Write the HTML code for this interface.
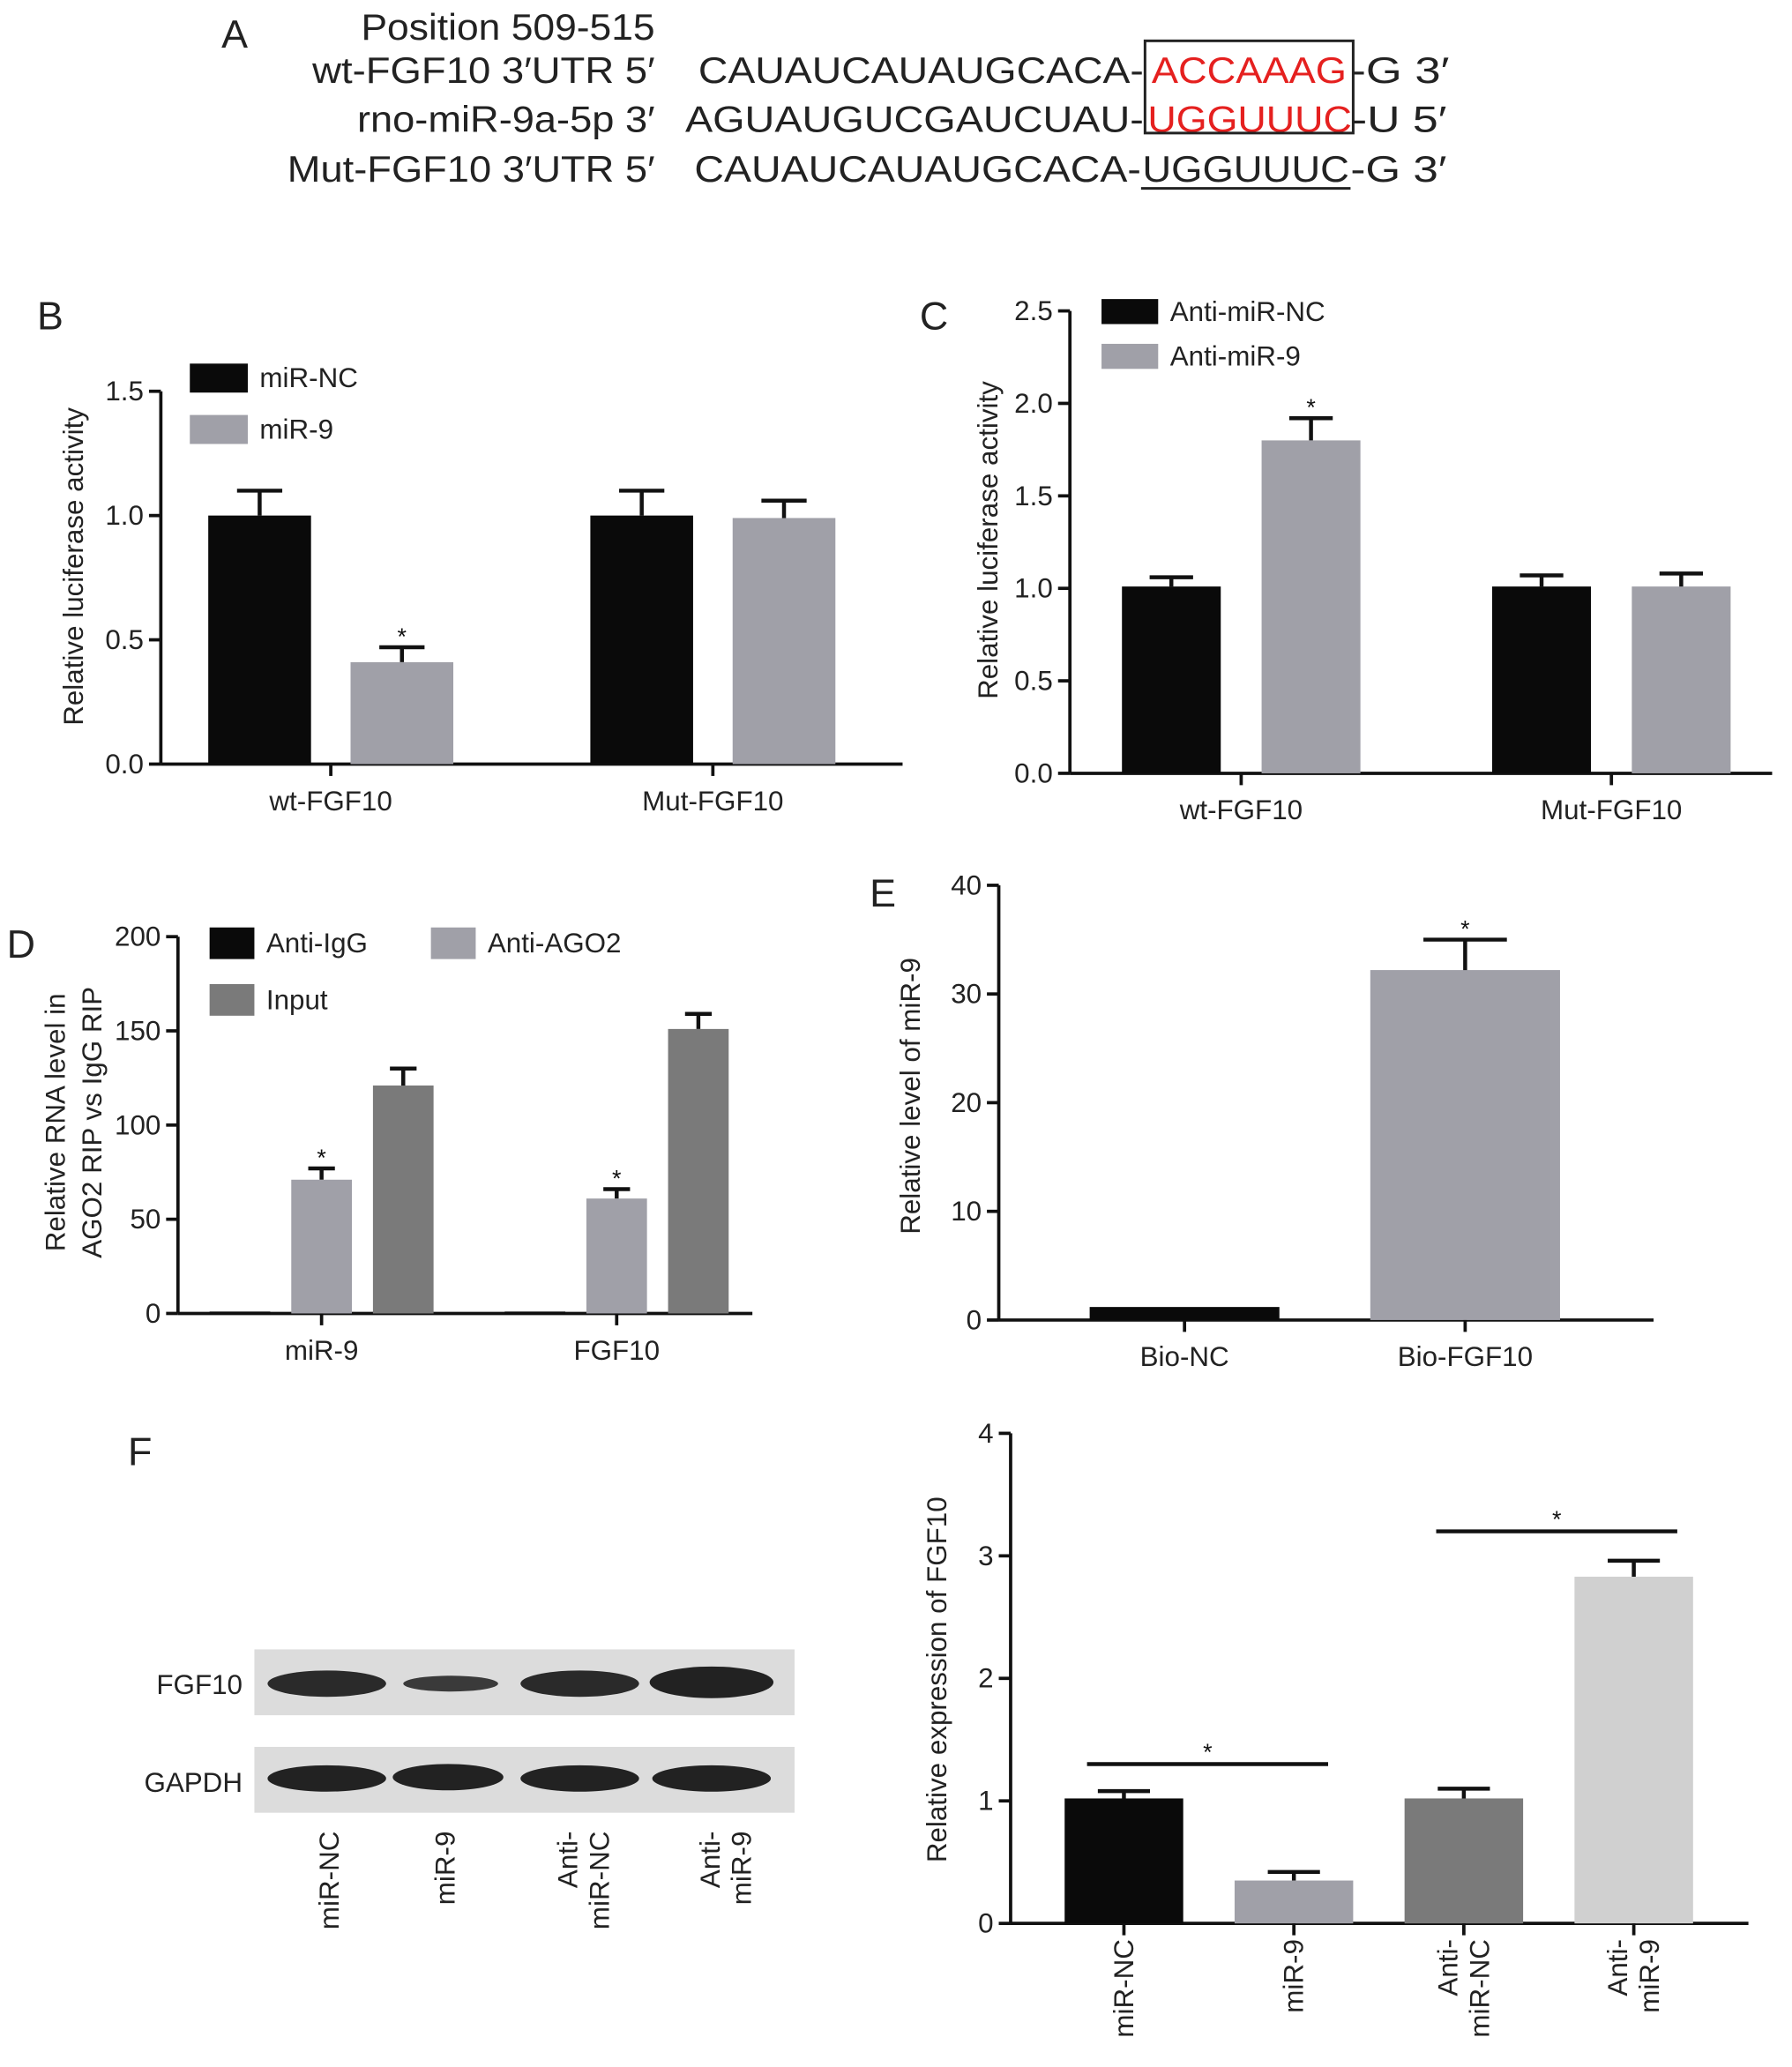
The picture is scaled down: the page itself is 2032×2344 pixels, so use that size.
<!DOCTYPE html>
<html><head><meta charset="utf-8"><style>
html,body{margin:0;padding:0;background:#fff}
svg{display:block;font-family:"Liberation Sans",Arial,sans-serif}
</style></head><body>
<svg id="fig" width="2032" height="2344" viewBox="0 0 1360 1569" xmlns="http://www.w3.org/2000/svg">
<g font-size="28" fill="#222">
<text x="168" y="36" font-size="30">A</text>
<text x="274" y="30" textLength="223" lengthAdjust="spacingAndGlyphs">Position 509-515</text>
<text x="237" y="63" textLength="260" lengthAdjust="spacingAndGlyphs">wt-FGF10 3′UTR 5′</text>
<text x="271" y="100" textLength="226" lengthAdjust="spacingAndGlyphs">rno-miR-9a-5p 3′</text>
<text x="218" y="138" textLength="279" lengthAdjust="spacingAndGlyphs">Mut-FGF10 3′UTR 5′</text>
<g>
<text x="530" y="63" textLength="338" lengthAdjust="spacingAndGlyphs">CAUAUCAUAUGCACA-</text>
<text x="874" y="63" textLength="148" lengthAdjust="spacingAndGlyphs" fill="#e5201f">ACCAAAG</text>
<text x="1025" y="63" textLength="75" lengthAdjust="spacingAndGlyphs">-G 3′</text>
</g>
<g>
<text x="520" y="100" textLength="348" lengthAdjust="spacingAndGlyphs">AGUAUGUCGAUCUAU-</text>
<text x="871" y="100" textLength="155" lengthAdjust="spacingAndGlyphs" fill="#e5201f">UGGUUUC</text>
<text x="1026" y="100" textLength="72" lengthAdjust="spacingAndGlyphs">-U 5′</text>
</g>
<g>
<text x="527" y="138" textLength="339" lengthAdjust="spacingAndGlyphs">CAUAUCAUAUGCACA-</text>
<text x="867" y="138" textLength="157" lengthAdjust="spacingAndGlyphs">UGGUUUC</text>
<text x="1025" y="138" textLength="73" lengthAdjust="spacingAndGlyphs">-G 3′</text>
</g>
<rect x="869" y="31" width="158" height="70" fill="none" stroke="#222" stroke-width="2"/>
<line x1="866" y1="143" x2="1025" y2="143" stroke="#222" stroke-width="2"/>
</g>
<g id="charts"></g>
<g>
<text x="97" y="1112" font-size="30" fill="#222">F</text>
<rect x="193" y="1252" width="410" height="50" fill="#dcdcdc"/>
<rect x="193" y="1326" width="410" height="50" fill="#dcdcdc"/>
<text x="184" y="1286" text-anchor="end" font-size="21" fill="#222">FGF10</text>
<text x="184" y="1360" text-anchor="end" font-size="21" fill="#222">GAPDH</text>
<ellipse cx="248" cy="1278" rx="45" ry="10" fill="#2a2a2a"/>
<ellipse cx="342" cy="1278" rx="36" ry="6" fill="#3a3a3a"/>
<ellipse cx="440" cy="1278" rx="45" ry="10" fill="#2a2a2a"/>
<ellipse cx="540" cy="1277" rx="47" ry="12" fill="#222"/>
<ellipse cx="248" cy="1350" rx="45" ry="10" fill="#222"/>
<ellipse cx="340" cy="1349" rx="42" ry="10" fill="#222"/>
<ellipse cx="440" cy="1350" rx="45" ry="10" fill="#222"/>
<ellipse cx="540" cy="1350" rx="45" ry="10" fill="#222"/>
<g font-size="21" fill="#222">
<text transform="translate(250,1390) rotate(-90)" text-anchor="end" dy="7">miR-NC</text>
<text transform="translate(338,1390) rotate(-90)" text-anchor="end" dy="7">miR-9</text>
<text transform="translate(442,1390) rotate(-90)" text-anchor="end" dy="-4"><tspan x="0" dy="-4">Anti-</tspan><tspan x="0" dy="24">miR-NC</tspan></text>
<text transform="translate(550,1390) rotate(-90)" text-anchor="end"><tspan x="0" dy="-4">Anti-</tspan><tspan x="0" dy="24">miR-9</tspan></text>
</g>
</g>
</svg>
<script>
// Panel B
const bCats=["wt-FGF10","Mut-FGF10"];
const bSeries=["miR-NC","miR-9"];
const bVals=[[1.0,0.41],[1.0,0.99]];
const bErr=[[0.1,0.06],[0.1,0.07]];
const bSig=[[false,true],[false,false]];
const bTicks=["0.0","0.5","1.0","1.5"];
// Panel C
const cCats=["wt-FGF10","Mut-FGF10"];
const cSeries=["Anti-miR-NC","Anti-miR-9"];
const cVals=[[1.01,1.8],[1.01,1.01]];
const cErr=[[0.05,0.12],[0.06,0.07]];
const cSig=[[false,true],[false,false]];
const cTicks=["0.0","0.5","1.0","1.5","2.0","2.5"];
// Panel D
const dCats=["miR-9","FGF10"];
const dSeries=["Anti-IgG","Anti-AGO2","Input"];
const dVals=[[1,71,121],[1,61,151]];
const dErr=[[0,6,9],[0,5,8]];
const dSig=[[false,true,false],[false,true,false]];
const dTicks=["0","50","100","150","200"];
// Panel E
const eCats=["Bio-NC","Bio-FGF10"];
const eVals=[1.2,32.2];
const eErr=[0,2.8];
const eSig=[false,true];
const eTicks=["0","10","20","30","40"];
// Panel F
const fCats=["miR-NC","miR-9","Anti-miR-NC","Anti-miR-9"];
const fVals=[1.02,0.35,1.02,2.83];
const fErr=[0.06,0.07,0.08,0.13];
const fTicks=["0","1","2","3","4"];

const NS="http://www.w3.org/2000/svg";
const root=document.getElementById('charts');
function mk(tag,attrs,parent,txt){const e=document.createElementNS(NS,tag);for(const k in attrs)e.setAttribute(k,attrs[k]);if(txt!==undefined)e.textContent=txt;(parent||root).appendChild(e);return e;}

function axes(g,o){
  const ys=v=>o.y0-(v/o.max)*(o.y0-o.yTop);
  const ya=mk('line',{x1:o.x0,y1:o.yTop,x2:o.x0,y2:o.y0,stroke:'#111','stroke-width':2.5},g);
  
  const xa=mk('line',{x1:o.x0,y1:o.y0,x2:o.xEnd,y2:o.y0,stroke:'#111','stroke-width':2.5},g);
  
  o.ticks.forEach((t,i)=>{const v=o.max*i/(o.ticks.length-1);const y=ys(v);
    const tl=mk('line',{x1:o.x0-9,y1:y,x2:o.x0,y2:y,stroke:'#111','stroke-width':2.5},g);
    
    const tx=mk('text',{x:o.x0-13,y:y+7,'text-anchor':'end','font-size':21,fill:'#222'},g,t);
    });
  return ys;
}
function bar(g,x,w,ys,y0,v,err,color,sig,name){
  const r=mk('rect',{x:x,y:ys(v),width:w,height:y0-ys(v),fill:color},g);
  
  let top=ys(v);
  if(err>0){const cx=x+w/2,ye=ys(v+err);top=ye;
    const el=mk('path',{d:`M${cx} ${ys(v)}V${ye}M${cx-w*0.22} ${ye}H${cx+w*0.22}`,stroke:'#111','stroke-width':3,fill:'none'},g);
    }
  if(sig){const s=mk('text',{x:x+w/2,y:top-2,'text-anchor':'middle','font-size':18,fill:'#111'},g,'*');
    }
}
function ytitle(g,x,cy,lines,name){
  const t=mk('text',{transform:`translate(${x},${cy}) rotate(-90)`,'text-anchor':'middle','font-size':21,fill:'#222'},g);
  
  lines.forEach((l,i)=>{mk('tspan',{x:0,dy:i?28:0},t,l);});
}
function label(g,x,y,txt,name,size){const t=mk('text',{x:x,y:y,'text-anchor':'middle','font-size':size||21,fill:'#222'},g,txt);
  return t;}
function legend(g,x,y,w,h,color,txt){
  const r=mk('rect',{x:x,y:y,width:w,height:h,fill:color},g);
  const t=mk('text',{x:x+w+9,y:y+h/2+7,'font-size':21,fill:'#222'},g,txt);
}
function panelLabel(g,x,y,t){const e=mk('text',{x:x,y:y,'font-size':30,fill:'#222'},g,t);}
function group(name){const g=mk('g',{});return g;}

function grouped(g,o,cats,vals,errs,sigs,colors,catCenters,barW,gap){
  const ys=axes(g,o);
  cats.forEach((c,ci)=>{const n=vals[ci].length;const tot=n*barW+(n-1)*gap;let x=catCenters[ci]-tot/2;
    vals[ci].forEach((v,si)=>{bar(g,x,barW,ys,o.y0,v,errs[ci][si],colors[si],sigs[ci][si],'bar-'+c+'-'+si);x+=barW+gap;});
    const tk=mk('line',{x1:catCenters[ci],y1:o.y0,x2:catCenters[ci],y2:o.y0+9,stroke:'#111','stroke-width':2.5},g);
    
    label(g,catCenters[ci],o.y0+35,c,'x-tick-label');});
  return ys;
}
const BLK='#0a0a0a',GRY='#a0a0a8',DGR='#7a7a7a';
{const g=group('panel-b');panelLabel(g,28,250,'B');
grouped(g,{x0:122,y0:580,yTop:297,xEnd:685,max:1.5,ticks:bTicks},bCats,bVals,bErr,bSig,[BLK,GRY],[251,541],78,30);
ytitle(g,63,430,['Relative luciferase activity'],'y-axis-title');
legend(g,144,276,44,22,BLK,bSeries[0]);legend(g,144,315,44,22,GRY,bSeries[1]);}
{const g=group('panel-c');panelLabel(g,698,250,'C');
grouped(g,{x0:812,y0:587,yTop:236,xEnd:1345,max:2.5,ticks:cTicks},cCats,cVals,cErr,cSig,[BLK,GRY],[942,1223],75,31);
ytitle(g,757,410,['Relative luciferase activity'],'y-axis-title');
legend(g,836,227,43,19,BLK,cSeries[0]);legend(g,836,261,43,19,GRY,cSeries[1]);}
{const g=group('panel-d');panelLabel(g,5,727,'D');
grouped(g,{x0:135,y0:997,yTop:711,xEnd:571,max:200,ticks:dTicks},dCats,dVals,dErr,dSig,[BLK,GRY,DGR],[244,468],46,16);
ytitle(g,49,852,['Relative RNA level in','AGO2 RIP vs IgG RIP'],'y-axis-title');
legend(g,159,704,34,24,BLK,dSeries[0]);legend(g,327,704,34,24,GRY,dSeries[1]);legend(g,159,747,34,24,DGR,dSeries[2]);}
{const g=group('panel-e');panelLabel(g,660,688,'E');
const o={x0:758,y0:1002,yTop:672,xEnd:1255,max:40,ticks:eTicks};const ys=axes(g,o);
const cs=[899,1112],cols=[BLK,GRY];
eCats.forEach((c,i)=>{bar(g,cs[i]-72,144,ys,o.y0,eVals[i],eErr[i],cols[i],eSig[i],'bar-'+c);
 const tk=mk('line',{x1:cs[i],y1:o.y0,x2:cs[i],y2:o.y0+9,stroke:'#111','stroke-width':2.5},g);
 label(g,cs[i],o.y0+35,c,'x-tick-label');});
ytitle(g,698,832,['Relative level of miR-9'],'y-axis-title');}
{const g=group('panel-f-chart');
const o={x0:767,y0:1460,yTop:1088,xEnd:1327,max:4,ticks:fTicks};const ys=axes(g,o);
const cs=[853,982,1111,1240],cols=[BLK,GRY,DGR,'#d0d0d0'];
fCats.forEach((c,i)=>{bar(g,cs[i]-45,90,ys,o.y0,fVals[i],fErr[i],cols[i],false,'bar-'+c);
 const tk=mk('line',{x1:cs[i],y1:o.y0,x2:cs[i],y2:o.y0+9,stroke:'#111','stroke-width':2.5},g);
 const t=mk('text',{transform:`translate(${cs[i]+7},1472) rotate(-90)`,'text-anchor':'end','font-size':21,fill:'#222'},g);
 
 if(c.startsWith('Anti-')){mk('tspan',{x:0,dy:-12},t,'Anti-');mk('tspan',{x:0,dy:24},t,c.slice(5));}else{t.textContent=c;}
});
function sigline(x1,x2,v){const y=ys(v);const l=mk('line',{x1:x1,y1:y,x2:x2,y2:y,stroke:'#111','stroke-width':3},g);
 
 const s=mk('text',{x:(x1+x2)/2,y:y-3,'text-anchor':'middle','font-size':18,fill:'#111'},g,'*');}
sigline(825,1008,1.3);sigline(1090,1273,3.2);
ytitle(g,718,1275,['Relative expression of FGF10'],'y-axis-title');}
</script>
</body></html>
